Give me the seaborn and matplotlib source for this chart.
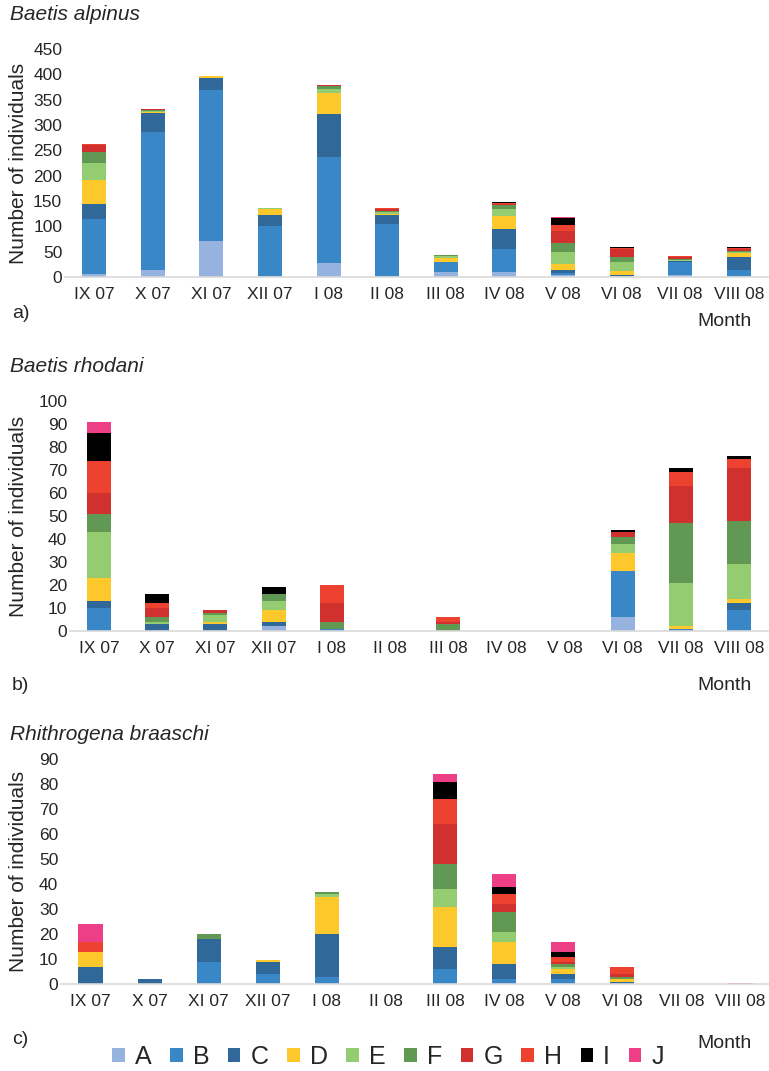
import pandas as pd
import seaborn as sns
import matplotlib.pyplot as plt
from matplotlib.patches import Patch

# months sampled and size groups
months = ["IX 07", "X 07", "XI 07", "XII 07", "I 08", "II 08",
          "III 08", "IV 08", "V 08", "VI 08", "VII 08", "VIII 08"]
groups = ["A", "B", "C", "D", "E", "F", "G", "H", "I", "J"]
colors = ["#95b3de", "#3a87c8", "#30689a", "#fdc82b", "#94cc72",
          "#619853", "#d0302e", "#ee4230", "#000000", "#ee3e86"]

# one row per group (A..J), one value per month
alpinus = [
    [5, 13, 71, 2, 28, 2, 9, 9, 3, 1, 4, 1],
    [110, 273, 298, 98, 209, 103, 20, 46, 5, 0, 25, 12],
    [29, 38, 24, 23, 85, 17, 1, 40, 5, 3, 3, 26],
    [47, 1, 3, 11, 42, 3, 8, 26, 12, 8, 0, 8],
    [34, 2, 0, 3, 8, 3, 3, 13, 24, 18, 1, 3],
    [21, 2, 0, 0, 4, 3, 2, 9, 18, 9, 2, 1],
    [14, 2, 0, 0, 3, 4, 1, 2, 23, 16, 5, 5],
    [2, 1, 0, 0, 0, 2, 0, 1, 13, 2, 2, 1],
    [0, 0, 0, 0, 0, 0, 0, 3, 13, 3, 0, 3],
    [0, 0, 0, 0, 0, 0, 0, 0, 2, 0, 0, 0],
]
rhodani = [
    [0, 0, 0, 2, 0, 0, 0, 0, 0, 6, 0, 0],
    [10, 0, 0, 0, 1, 0, 0, 0, 0, 20, 1, 9],
    [3, 3, 3, 2, 0, 0, 0, 0, 0, 0, 0, 3],
    [10, 0, 1, 5, 0, 0, 0, 0, 0, 8, 1, 2],
    [20, 1, 3, 4, 0, 0, 0, 0, 0, 4, 19, 15],
    [8, 2, 1, 3, 3, 0, 3, 0, 0, 3, 26, 19],
    [9, 4, 1, 0, 8, 0, 1, 0, 0, 2, 16, 23],
    [14, 2, 0, 0, 8, 0, 2, 0, 0, 0, 6, 4],
    [12, 4, 0, 3, 0, 0, 0, 0, 0, 1, 2, 1],
    [5, 0, 0, 0, 0, 0, 0, 0, 0, 0, 0, 0],
]
braaschi = [
    [0, 0, 0, 0, 0, 0, 0, 0, 0, 0, 0, 0],
    [0, 0, 9, 4, 3, 0, 6, 2, 2, 0, 0, 0],
    [7, 2, 9, 5, 17, 0, 9, 6, 2, 1, 0, 0],
    [6, 0, 0, 0.5, 15, 0, 16, 9, 2, 1, 0, 0],
    [0, 0, 0, 0, 1, 0, 7, 4, 1, 0, 0, 0],
    [0, 0, 2, 0, 1, 0, 10, 8, 1, 1, 0, 0],
    [0, 0, 0, 0, 0, 0, 16, 3, 1, 1, 0, 0],
    [4, 0, 0, 0, 0, 0, 10, 4, 2, 3, 0, 0],
    [0, 0, 0, 0, 0, 0, 7, 3, 2, 0, 0, 0],
    [7, 0, 0, 0, 0, 0, 3, 5, 4, 0, 0, 0.6],
]

sns.set_theme(style="white")
plt.rcParams['font.family'] = ['Liberation Sans', 'DejaVu Sans']

W, H = 769, 1071
fig = plt.figure(figsize=(W / 100, H / 100), dpi=100)
palette = dict(zip(groups, colors))

# title, data, ymax, ystep, axes box in px (left, right, top, bottom), tag, title y, tag y, month y
panels = [
    ("Baetis alpinus", alpinus, 450, 50, (65, 768, 49, 277), "a)", 15, 313, 322),
    ("Baetis rhodani", rhodani, 100, 10, (70, 768, 401, 631), "b)", 367, 685, 686),
    ("Rhithrogena braaschi", braaschi, 90, 10, (61, 770, 759, 984), "c)", 735, 1040, 1043),
]

for title, data, ymax, ystep, box, tag, ty, tagy, my in panels:
    l, r, t, b = box
    ax = fig.add_axes([l / W, 1 - b / H, (r - l) / W, (b - t) / H])
    rows = [(m, g, v) for g, vals in zip(groups, data) for m, v in zip(months, vals)]
    df = pd.DataFrame(rows, columns=["month", "group", "n"])
    df["month"] = pd.Categorical(df["month"], categories=months, ordered=True)
    sns.histplot(data=df, x="month", weights="n", hue="group",
                 hue_order=groups[::-1], palette=palette, multiple="stack",
                 discrete=True, shrink=0.41, linewidth=0, alpha=1,
                 legend=False, ax=ax)
    ax.set_xlim(-0.5, 11.5)
    ax.set_ylim(0, ymax)
    ax.set_yticks(range(0, ymax + 1, ystep))
    ax.set_xticks(range(len(months)))
    ax.set_xticklabels(months)
    ax.tick_params(axis="x", length=0, pad=7, labelsize=12.5)
    ax.tick_params(axis="y", length=0, pad=2, labelsize=12.5)
    ax.set_xlabel("")
    ax.set_ylabel("Number of individuals", fontsize=15)
    ax.yaxis.set_label_coords((28 - l) / (r - l), 0.5)
    sns.despine(ax=ax, left=True)
    ax.spines["bottom"].set_color("#d9d9d9")
    ax.spines["bottom"].set_linewidth(1.2)
    fig.text(10 / W, 1 - ty / H, title, fontsize=15, style="italic", va="center")
    fig.text(12 / W, 1 - tagy / H, tag, fontsize=14, va="center")
    fig.text(752 / W, 1 - my / H, "Month", fontsize=14, va="center", ha="right")

handles = [Patch(facecolor=c, edgecolor="none") for c in colors]
fig.legend(handles, groups, loc="center", bbox_to_anchor=(388 / W, 1 - 1057 / H),
           ncol=10, frameon=False, fontsize=18, handlelength=0.5,
           handleheight=0.5, handletextpad=0.4, columnspacing=0.75,
           borderpad=0, borderaxespad=0)

fig.savefig("out.png", dpi=100)
